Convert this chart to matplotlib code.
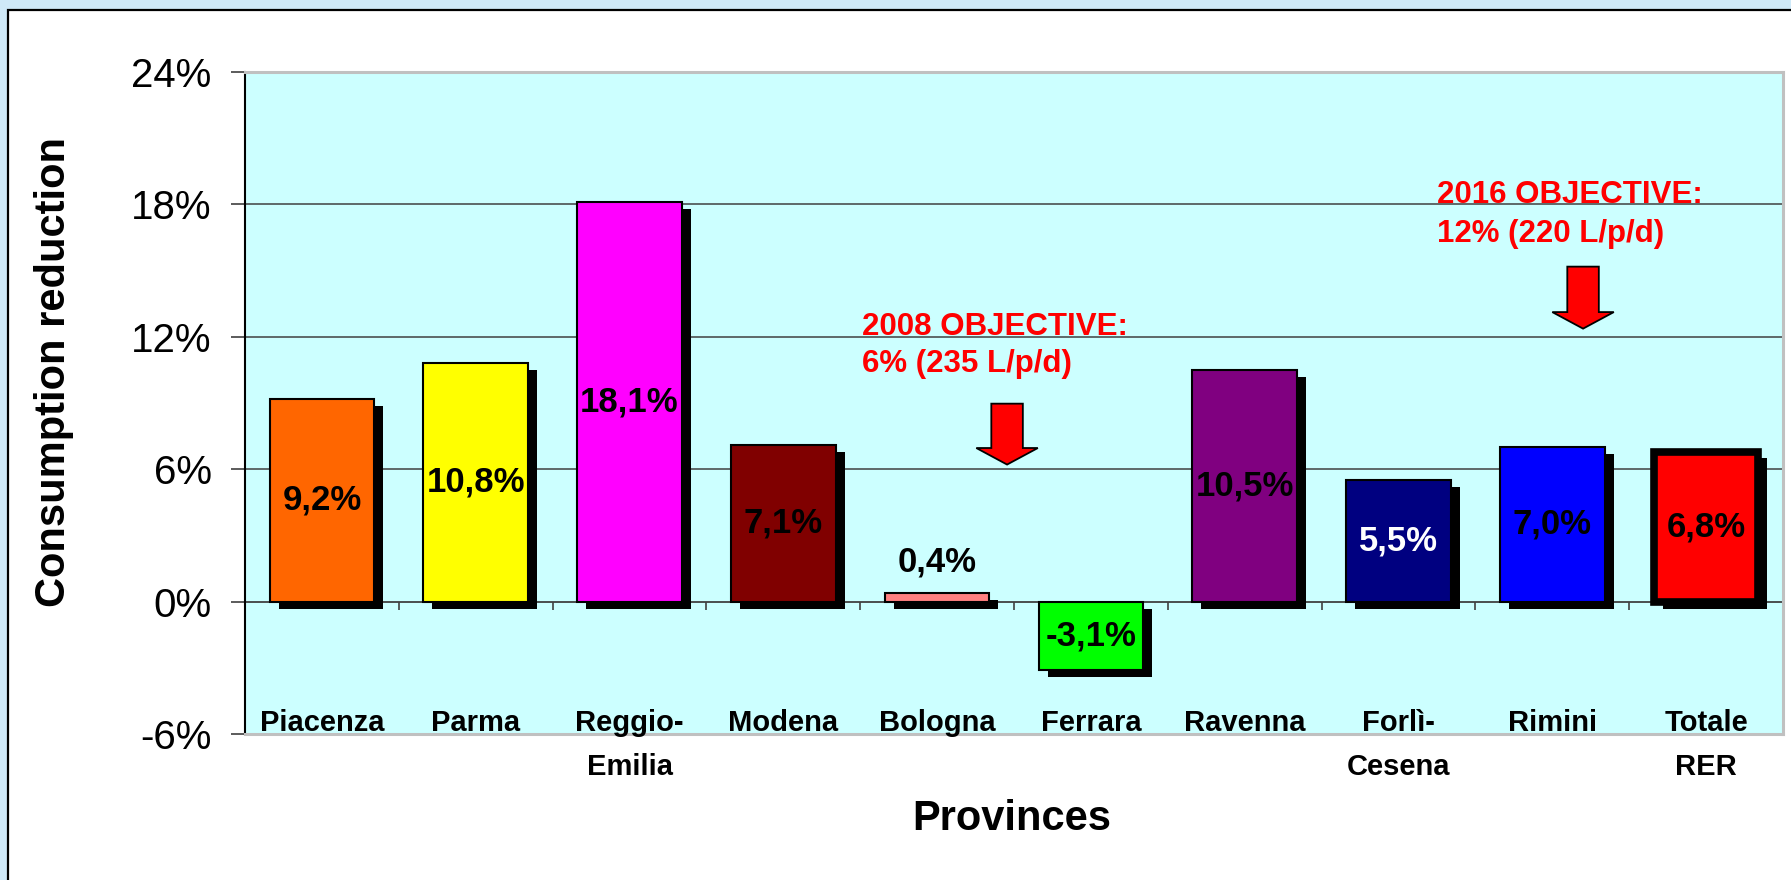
import matplotlib
matplotlib.use("Agg")
import matplotlib.pyplot as plt
import matplotlib.patheffects as pe
from matplotlib.patches import Rectangle, FancyArrow
from matplotlib.ticker import FixedLocator, FuncFormatter
import numpy as np

plt.rcParams['font.family'] = ['Liberation Sans', 'DejaVu Sans']

# ---- data ----
categories = ["Piacenza", "Parma", "Reggio-\nEmilia", "Modena", "Bologna",
              "Ferrara", "Ravenna", "Forlì-\nCesena", "Rimini", "Totale\nRER"]
values = [9.2, 10.8, 18.1, 7.1, 0.4, -3.1, 10.5, 5.5, 7.0, 6.8]
value_labels = ["9,2%", "10,8%", "18,1%", "7,1%", "0,4%", "-3,1%",
                "10,5%", "5,5%", "7,0%", "6,8%"]
label_pos = ["center", "center", "center", "center", "above", "center",
             "center", "center", "center", "center"]
bar_colors = ["#FF6600", "#FFFF00", "#FF00FF", "#800000", "#FF8080", "#00FF00",
              "#800080", "#000080", "#0000FF", "#FF0000"]
label_colors = ["black", "black", "black", "black", "black", "black",
                "black", "white", "black", "black"]
edge_widths = [1.5, 1.5, 1.5, 1.5, 1.5, 1.5, 1.5, 1.5, 1.5, 5.5]
yticks = [-6, 0, 6, 12, 18, 24]

objectives = [
    {"lines": ["2008 OBJECTIVE:", "6% (235 L/p/d)"], "x": 3.51, "y": [12.1, 10.42],
     "arrow_x": 4.455, "arrow_top": 8.97, "arrow_tip": 6.21},
    {"lines": ["2016 OBJECTIVE:", "12% (220 L/p/d)"], "x": 7.25, "y": [18.08, 16.31],
     "arrow_x": 8.20, "arrow_top": 15.18, "arrow_tip": 12.37},
]

W, H, DPI = 1791, 880, 100
fig = plt.figure(figsize=(W / DPI, H / DPI), dpi=DPI, facecolor="#cfe9f8")

# white panel with black border
panel = Rectangle((8 / W, -0.05), 1.1, (H - 10) / H + 0.05, transform=fig.transFigure,
                  facecolor="white", edgecolor="black", linewidth=1.6, zorder=-10)
fig.patches.append(panel)

ax = fig.add_axes([245 / W, 146 / H, 1538 / W, 662 / H])
ax.set_zorder(1)
ax.set_facecolor("#CCFFFF")
ax.set_xlim(-0.5, len(categories) - 0.5)
ax.set_ylim(-6, 24)
ax.set_axisbelow(True)

# grid lines
for g in [6, 12, 18]:
    ax.axhline(g, color="#404040", lw=1.1, zorder=0.5)
ax.axhline(0, color="#404040", lw=1.3, zorder=0.6)
bounds = np.arange(len(categories) + 1) - 0.5
ax.vlines(bounds[1:], -0.4, 0, color="#404040", lw=1.2, zorder=0.6)

x = np.arange(len(categories))
bars = ax.bar(x, values, width=0.68, color=bar_colors, edgecolor="black",
              linewidth=edge_widths, zorder=2)
for b in bars:
    b.set_path_effects([pe.SimplePatchShadow(offset=(6.5, -5), shadow_rgbFace="black", alpha=1.0),
                        pe.Normal()])

for xi, v, lab, pos, c in zip(x, values, value_labels, label_pos, label_colors):
    y = v / 2 if pos == "center" else v + 1.4
    ax.text(xi, y, lab, ha="center", va="center", fontsize=25, fontweight="bold",
            color=c, zorder=5)

# spines
for s in ["top", "right", "bottom"]:
    ax.spines[s].set_color("#c0c0c0")
    ax.spines[s].set_linewidth(2.2)
ax.spines["left"].set_color("black")
ax.spines["left"].set_linewidth(1.5)

ax.yaxis.set_major_locator(FixedLocator(yticks))
ax.yaxis.set_major_formatter(FuncFormatter(lambda v, p: f"{v:.0f}%"))
ax.tick_params(axis="y", length=10, width=1.2, color="#404040", labelsize=29, pad=14)
ax.set_xticks([])

# category labels
btrans = ax.get_xaxis_transform()
for xi, cat in zip(x, categories):
    parts = cat.split("\n")
    ax.text(xi, 0.004, parts[0], transform=btrans, ha="center", va="baseline",
            fontsize=21, fontweight="bold", zorder=5)
    if len(parts) > 1:
        ax.text(xi, -0.062, parts[1], transform=btrans, ha="center", va="baseline",
                fontsize=21, fontweight="bold", clip_on=False)

# objectives
for ob in objectives:
    for line, yy in zip(ob["lines"], ob["y"]):
        ax.text(ob["x"], yy, line, ha="left", va="baseline", fontsize=22.5,
                fontweight="bold", color="#FF0000", zorder=5)
    arr = FancyArrow(ob["arrow_x"], ob["arrow_top"], 0, ob["arrow_tip"] - ob["arrow_top"],
                     width=0.205, head_width=0.40, head_length=0.75,
                     length_includes_head=True, facecolor="#FF0000",
                     edgecolor="black", linewidth=1.3, zorder=5)
    ax.add_patch(arr)

fig.text(54 / W, 1 - 372 / H, "Consumption reduction", rotation=90, ha="center",
         va="center", fontsize=30, fontweight="bold")
fig.text(1012 / W, 1 - 819 / H, "Provinces", ha="center", va="center",
         fontsize=30, fontweight="bold")

fig.savefig("out.png", dpi=DPI, facecolor=fig.get_facecolor())
